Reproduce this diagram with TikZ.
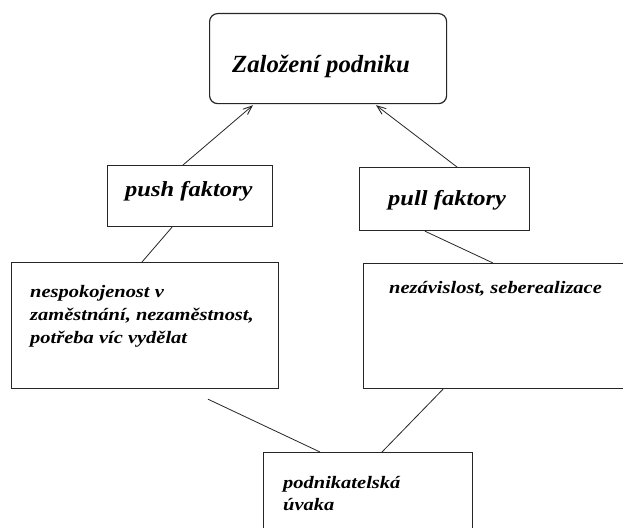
\documentclass[tikz,border=0pt]{standalone}
\usepackage{fontspec}
\setmainfont{Liberation Serif}
\newfontfamily\widefont{Liberation Serif}[FakeStretch=1.17]
\newfontfamily\midfont{Liberation Serif}[FakeStretch=1.14]
\usetikzlibrary{arrows.meta}
\begin{document}
\begin{tikzpicture}[x=1pt,y=-1pt,
  box/.style={draw=black!85, line width=1.2pt, anchor=north west, inner sep=0pt},
  conn/.style={draw=black!85, line width=0.8pt},
  arr/.style={conn, -{Straight Barb[length=9pt,width=7pt,line width=0.9pt]}},
  titletext/.style={anchor=base west, inner sep=0pt, font=\fontsize{24.7}{28}\selectfont\bfseries\itshape},
  factext/.style={anchor=base west, inner sep=0pt, font=\midfont\fontsize{21.5}{26}\selectfont\bfseries\itshape},
  bodytext/.style={anchor=base west, inner sep=0pt, font=\widefont\fontsize{17.5}{23}\selectfont\bfseries\itshape}]
\useasboundingbox (0,0) rectangle (623,527);
\fill[white] (0,0) rectangle (623,527);
\clip (0,0) rectangle (623,527);
% boxes
\node[box, rounded corners=8pt, minimum width=237pt, minimum height=90pt] (zal) at (209,13) {};
\node[box, minimum width=165pt, minimum height=61pt] (push) at (107,165) {};
\node[box, minimum width=170pt, minimum height=63pt] (pull) at (359,167) {};
\node[box, minimum width=267pt, minimum height=126pt] (left) at (11,262) {};
\node[box, minimum width=275pt, minimum height=125pt] (right) at (363,263) {};
\node[box, minimum width=209pt, minimum height=100pt] (bottom) at (263,452) {};
% texts
\node[titletext] (zalt) at (232,72) {Založení podniku};
\node[factext] (pusht) at (125,196) {push faktory};
\node[factext] (pullt) at (388,205) {pull faktory};
\node[bodytext] (l1) at (30,297) {nespokojenost v};
\node[bodytext] (l2) at (30,320) {zaměstnání, nezaměstnost,};
\node[bodytext] (l3) at (30,343) {potřeba víc vydělat};
\node[bodytext] (r1) at (389,293) {nezávislost, seberealizace};
\node[bodytext] (b1) at (283,488) {podnikatelská};
\node[bodytext] (b2) at (283,510) {úvaka};
% connectors
\draw[arr] ([xshift=76pt]push.north west) -- ([xshift=44pt,yshift=-1pt]zal.south west);
\draw[arr] ([xshift=98pt]pull.north west) -- ([xshift=167pt,yshift=-1pt]zal.south west);
\draw[conn] ([xshift=65pt]push.south west) -- ([xshift=131pt]left.north west);
\draw[conn] ([xshift=66pt]pull.south west) -- ([xshift=130pt]right.north west);
\draw[conn] ([xshift=197pt,yshift=-10pt]left.south west) -- ([xshift=57pt]bottom.north west);
\draw[conn] ([xshift=80pt]right.south west) -- ([xshift=119pt]bottom.north west);
\end{tikzpicture}
\end{document}
